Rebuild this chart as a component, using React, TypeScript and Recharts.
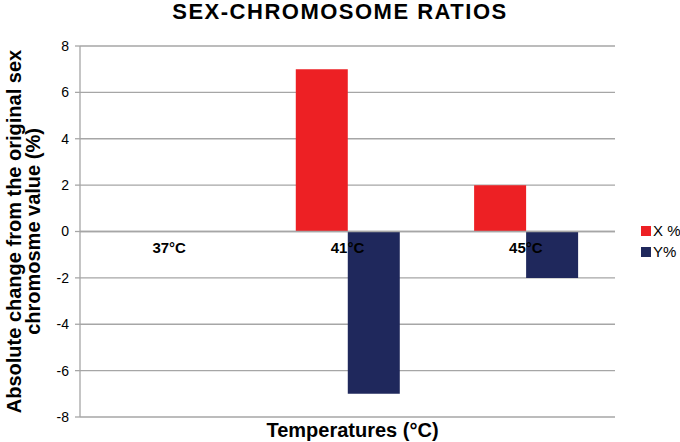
import React from 'react';
import { BarChart, Bar, XAxis, YAxis, CartesianGrid, ReferenceLine } from 'recharts';

const categories = ['37°C', '41°C', '45°C'];
const xPercent = [0, 7, 2];
const yPercent = [0, -7, -2];
const yTicks = [-8, -6, -4, -2, 0, 2, 4, 6, 8];
const seriesNames = ['X %', 'Y%'];
const seriesColors = ['#ed2024', '#1f285c'];

const data = categories.map((c, i) => ({ cat: c, x: xPercent[i], y: yPercent[i] }));

const W = 680;
const H = 442;
const XH = 25;
const M = { top: 46, right: 65, bottom: 0, left: 0 };
const YW = 80;
const plotH = H - M.top - M.bottom - XH;
const yMin = -8;
const yMax = 8;
const zeroShift = plotH * (0 - yMin) / (yMax - yMin);

const FONT = 'Liberation Sans, Arial, sans-serif';

const CatTick = (props: any) => {
  const { x, y, payload } = props;
  const zy = y - zeroShift;
  return (
    <text x={x} y={zy + 13} textAnchor="middle" fontFamily={FONT} fontWeight="bold" fontSize={15} fill="#000">
      {payload.value}
    </text>
  );
};

const YLabel = (props: any) => {
  const vb = props.viewBox || {};
  const cy = vb.y + vb.height / 2;
  return (
    <g>
      <text transform={`translate(21, ${cy}) rotate(-90)`} textAnchor="middle" fontFamily={FONT} fontWeight="bold" fontSize={20} fill="#000">
        Absolute change from the original sex
      </text>
      <text transform={`translate(40, ${cy}) rotate(-90)`} textAnchor="middle" fontFamily={FONT} fontWeight="bold" fontSize={20} fill="#000">
        chromosme value (%)
      </text>
    </g>
  );
};

export default function App() {
  return (
    <div style={{ position: 'absolute', left: 0, top: 0, width: W, height: H, background: '#fff', fontFamily: FONT }}>
      <div style={{ position: 'absolute', left: 0, top: 0, width: W, textAlign: 'center', fontWeight: 'bold', fontSize: 22, lineHeight: '23px', letterSpacing: 1.5 }}>
        SEX-CHROMOSOME RATIOS
      </div>
      <BarChart width={W} height={H} data={data} margin={M} barCategoryGap="21%" barGap={0}>
        <CartesianGrid vertical={false} stroke="#a6a6a6" strokeWidth={1.3} />
        <XAxis
          dataKey="cat"
          axisLine={false}
          tickLine={false}
          tick={<CatTick />}
          height={XH}
          interval={0}
          label={{ value: 'Temperatures (°C)', position: 'insideBottom', offset: 5, fontFamily: FONT, fontWeight: 'bold', fontSize: 20, fill: '#000', dx: 5 }}
        />
        <YAxis
          width={YW}
          domain={[yMin, yMax]}
          ticks={yTicks}
          interval={0}
          axisLine={{ stroke: '#a6a6a6', strokeWidth: 1.3 }}
          tickLine={{ stroke: '#a6a6a6', strokeWidth: 1.3 }}
          tickSize={5}
          tick={{ fill: '#000', fontSize: 14, fontFamily: FONT, dx: -4 }}
          label={<YLabel />}
        />
        <ReferenceLine y={0} stroke="#a6a6a6" strokeWidth={1.3} />
        <Bar dataKey="x" name={seriesNames[0]} fill={seriesColors[0]} isAnimationActive={false} />
        <Bar dataKey="y" name={seriesNames[1]} fill={seriesColors[1]} isAnimationActive={false} />
      </BarChart>
      <div style={{ position: 'absolute', left: 641, top: 220, width: 39, fontSize: 15, lineHeight: '21px', color: '#000', whiteSpace: 'nowrap' }}>
        {seriesNames.map((n, i) => (
          <div key={n} style={{ display: 'flex', alignItems: 'center' }}>
            <span style={{ display: 'inline-block', width: 10, height: 10, background: seriesColors[i], marginRight: 2, flexShrink: 0 }} />
            <span>{n}</span>
          </div>
        ))}
      </div>
    </div>
  );
}
